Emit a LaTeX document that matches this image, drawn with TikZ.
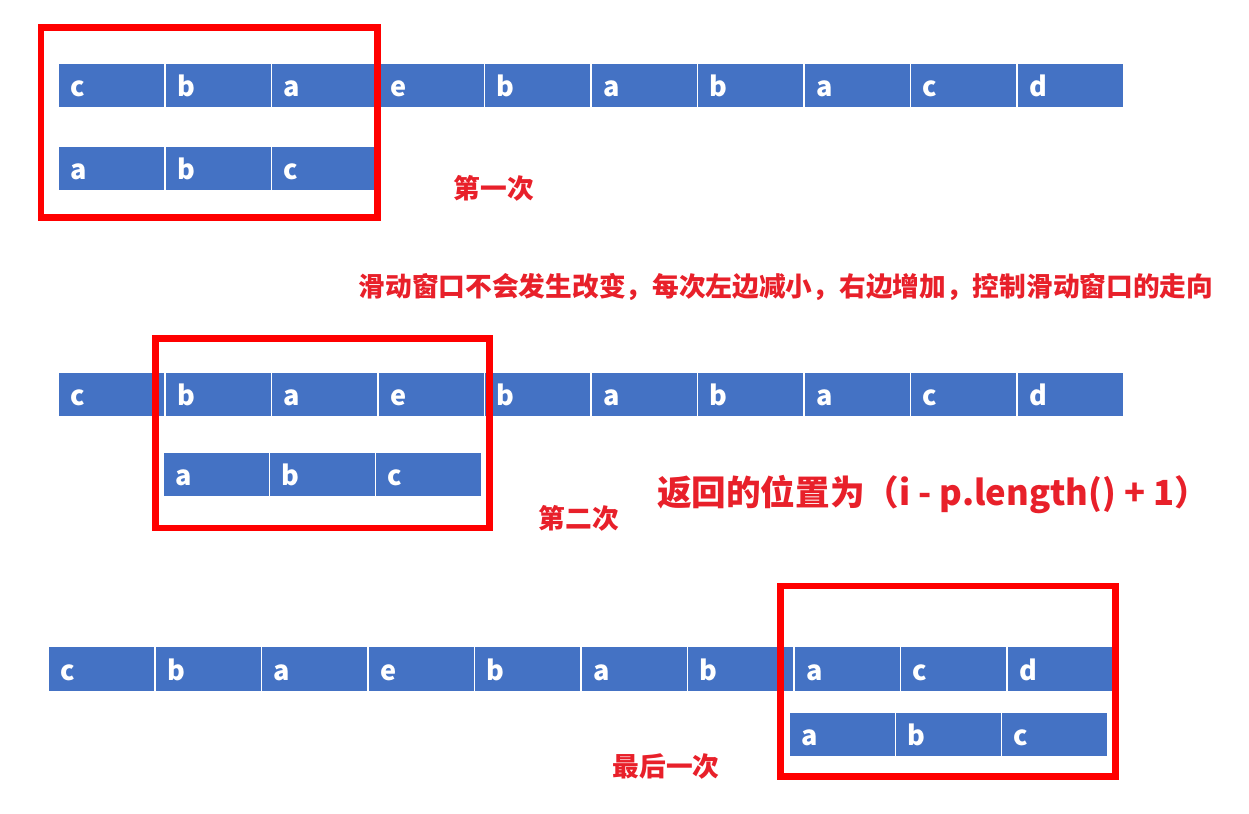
\documentclass[tikz,border=0pt]{standalone}
\usepackage{fontspec}
\setmainfont{Noto Sans CJK SC}
\usetikzlibrary{positioning}
\definecolor{cellblue}{HTML}{4472C4}
\definecolor{winred}{HTML}{FF0000}
\definecolor{notered}{HTML}{E8202A}
\tikzset{
  cellbox/.style={
    rectangle, draw=white, line width=0.8pt, fill=cellblue, text=white,
    minimum height=0.9cm, inner xsep=0.24cm, text width=1.65cm,
    text height=0.46cm, text depth=0cm,
    align=left, anchor=west,
    font=\fontsize{15.4}{18}\selectfont\bfseries
  },
  winbox/.style={draw=winred, line width=0.14cm},
  note/.style={text=notered, inner sep=0pt,
    font=\fontsize{15.2}{18}\selectfont\bfseries},
}

\begin{document}
\begin{tikzpicture}[x=0.02cm, y=-0.02cm]
    \useasboundingbox (0,0) rectangle (1249,814);
    % first pass
    \foreach \ch [count=\i from 0] in {c,b,a,e,b,a,b,a,c,d}
        \node[cellbox] (ta\i) at (58+106.5*\i, 85.5) {\ch};
    \foreach \ch [count=\i from 0] in {a,b,c}
        \node[cellbox] (pa\i) at (58+106.5*\i, 168.5) {\ch};
    \draw[winbox] (41,28) rectangle (377,218);
    \node[note] (first) at (494,188) {第一次};
    \node[note] (rule) at (786,287)
        {滑动窗口不会发生改变，每次左边减小，右边增加，控制滑动窗口的走向};
    % second pass
    \foreach \ch [count=\i from 0] in {c,b,a,e,b,a,b,a,c,d}
        \node[cellbox] (tb\i) at (58+106.5*\i, 394.5) {\ch};
    \foreach \ch [count=\i from 0] in {a,b,c}
        \node[cellbox, text width=1.64cm] (pb\i) at (163+106*\i, 474.5) {\ch};
    \draw[winbox] (155,339) rectangle (489,528);
    \node[note] (second) at (579,518) {第二次};
    \node[note, font=\fontsize{19.7}{24}\selectfont\bfseries] (result) at (933,495)
        {返回的位置为（i - p.length() + 1）};
    % last pass
    \foreach \ch [count=\i from 0] in {c,b,a,e,b,a,b,a,c,d}
        \node[cellbox] (tc\i) at (48+106.5*\i, 669) {\ch};
    \foreach \ch [count=\i from 0] in {a,b,c}
        \node[cellbox, text width=1.64cm] (pc\i) at (789+106*\i, 734.5) {\ch};
    \draw[winbox] (780,586) rectangle (1115,776);
    \node[note] (last) at (666,766) {最后一次};
\end{tikzpicture}
\end{document}
